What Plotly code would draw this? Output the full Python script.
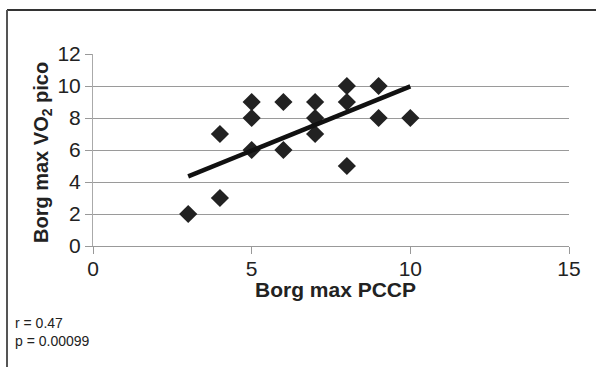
import plotly.graph_objects as go

# Data
borg_pccp = [3, 4, 4, 5, 5, 5, 6, 6, 7, 7, 7, 8, 8, 8, 9, 9, 10]
borg_vo2 = [2, 3, 7, 9, 8, 6, 9, 6, 9, 8, 7, 10, 9, 5, 10, 8, 8]
trend_x = [3, 10]
trend_y = [4.35, 9.98]
x_ticks = [0, 5, 10, 15]
y_ticks = [0, 2, 4, 6, 8, 10, 12]
stats_text = ["r = 0.47", "p = 0.00099"]

W, H = 596, 367
L, R, T, B = 93, 27, 54, 121
pw, ph = W - L - R, H - T - B

def px(x):
    return (x - L) / pw

def py(y):
    return (H - B - y) / ph

font = "Liberation Sans, Arial, sans-serif"

fig = go.Figure()
fig.add_trace(go.Scatter(
    x=borg_pccp, y=borg_vo2, mode="markers",
    marker=dict(symbol="diamond", size=14, color="#222222", line=dict(width=0)),
    showlegend=False, hoverinfo="skip"))
fig.add_trace(go.Scatter(
    x=trend_x, y=trend_y, mode="lines",
    line=dict(color="#111111", width=4.5),
    showlegend=False, hoverinfo="skip"))

fig.update_layout(
    width=W, height=H,
    margin=dict(l=L, r=R, t=T, b=B),
    paper_bgcolor="white", plot_bgcolor="white",
    font=dict(family=font, color="#222222"),
    xaxis=dict(range=[0, 15], tickvals=x_ticks, showgrid=False,
               showline=True, linecolor="#999999", linewidth=1,
               ticks="outside", ticklen=7, tickcolor="#999999",
               ticklabelstandoff=-3,
               tickfont=dict(size=21, color="#222222"), zeroline=False),
    yaxis=dict(range=[0, 12], tickvals=y_ticks, showgrid=True,
               gridcolor="#9a9a9a", gridwidth=1,
               showline=True, linecolor="#aaaaaa", linewidth=1,
               ticks="outside", ticklen=7, tickcolor="#999999",
               tickfont=dict(size=21, color="#222222"), zeroline=False),
    annotations=[
        dict(text="<b>Borg max PCCP</b>", xref="paper", yref="paper",
             x=px(335), y=py(289), xanchor="center", yanchor="middle",
             showarrow=False, font=dict(size=21, color="#222222")),
        dict(text="<b>Borg max VO<sub>2</sub> pico</b>", xref="paper", yref="paper",
             x=px(42), y=py(153), xanchor="center", yanchor="middle",
             textangle=-90, showarrow=False, font=dict(size=20, color="#222222")),
        dict(text="<br>".join(stats_text), xref="paper", yref="paper",
             x=px(13), y=py(332), xanchor="left", yanchor="middle", align="left",
             showarrow=False, font=dict(size=14, color="#222222")),
    ],
    shapes=[
        dict(type="line", xref="paper", yref="paper",
             x0=px(7), x1=px(W + 5), y0=py(10), y1=py(10),
             line=dict(color="#333333", width=2)),
        dict(type="line", xref="paper", yref="paper",
             x0=px(7), x1=px(7), y0=py(10), y1=py(H + 5),
             line=dict(color="#555555", width=2)),
    ],
)

fig.write_html("out.html")
